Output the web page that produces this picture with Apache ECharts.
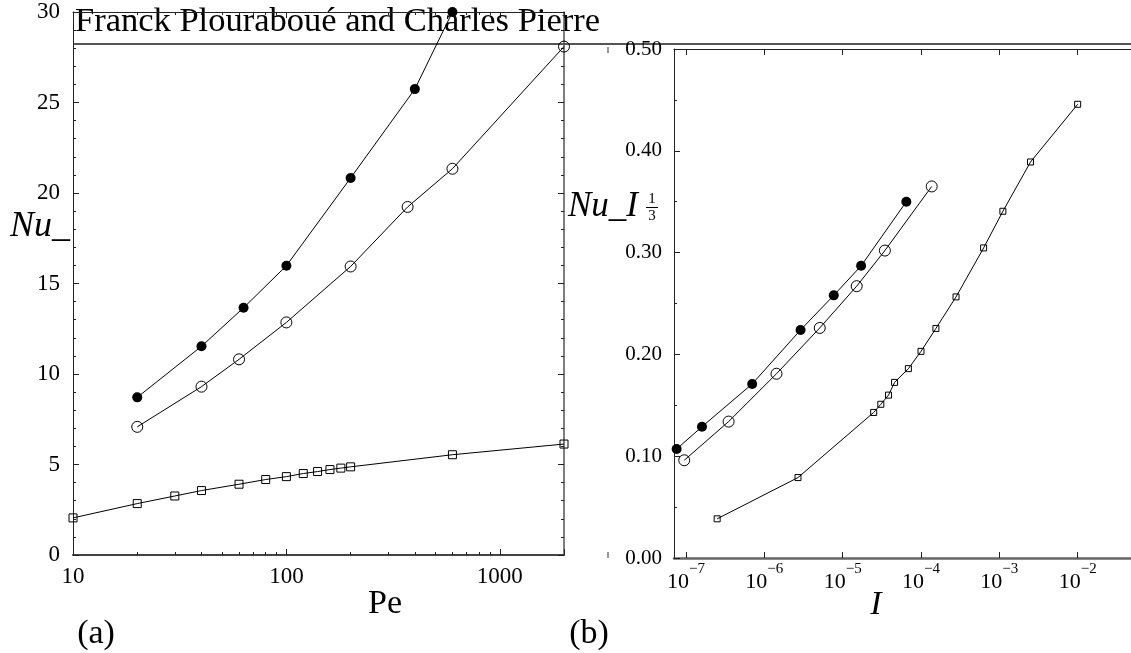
<!DOCTYPE html>
<html>
<head>
<meta charset="utf-8">
<title>Nu vs Pe / I</title>
<script src="https://cdn.jsdelivr.net/npm/echarts@6/dist/echarts.min.js"></script>
<style>
html, body { margin: 0; padding: 0; background: #fff; }
#chart { width: 1131px; height: 653px; }
</style>
</head>
<body>
<div id="chart"></div>
<script>
// panel (a) : Nu_ against Pe
var peFilled = [20, 40, 63, 100, 200, 400, 600];
var nuFilled = [8.71, 11.53, 13.66, 15.98, 20.83, 25.74, 30.0];
var peOpen = [20, 40, 60, 100, 200, 370, 600, 2000];
var nuOpen = [7.08, 9.30, 10.81, 12.85, 15.94, 19.23, 21.34, 28.09];
var peSquare = [10, 20, 30, 40, 60, 80, 100, 120, 140, 160, 180, 200, 600, 2000];
var nuSquare = [2.05, 2.84, 3.26, 3.56, 3.91, 4.17, 4.33, 4.50, 4.61, 4.72, 4.80, 4.87, 5.54, 6.13];
var peMinorTicks = [20, 30, 40, 50, 60, 70, 80, 90, 200, 300, 400, 500, 600, 700, 800, 900];

// panel (b) : Nu_ I^(1/3) against I
var iFilled = [7.6e-8, 1.6e-7, 7.0e-7, 2.9e-6, 7.7e-6, 1.72e-5, 6.5e-5];
var vFilled = [0.107, 0.129, 0.171, 0.224, 0.258, 0.287, 0.350];
var iOpen = [9.5e-8, 3.5e-7, 1.43e-6, 5.1e-6, 1.51e-5, 3.46e-5, 1.37e-4];
var vOpen = [0.096, 0.134, 0.181, 0.226, 0.267, 0.302, 0.365];
var iSquare = [2.5e-7, 2.69e-6, 2.49e-5, 3.07e-5, 3.85e-5, 4.6e-5, 6.9e-5, 1.0e-4, 1.55e-4, 2.8e-4, 6.3e-4, 1.11e-3, 2.5e-3, 1.0e-2];
var vSquare = [0.0385, 0.079, 0.143, 0.151, 0.160, 0.1725, 0.186, 0.203, 0.2255, 0.2565, 0.3046, 0.3406, 0.389, 0.4457];

var serif = '"Liberation Serif", "Times New Roman", serif';

function pairs(xs, ys) {
  return xs.map(function (x, i) { return [x, ys[i]]; });
}

function isDecade(v) {
  var e = Math.log10(v);
  return Math.abs(e - Math.round(e)) < 1e-6;
}

function peLabel(v) {
  return isDecade(v) ? String(Math.round(v)) : '';
}

function powLabel(v) {
  if (!isDecade(v)) return '';
  return '{b|10}{s|\u2212' + (-Math.round(Math.log10(v))) + '}';
}

var seriesConfig = {
  type: 'line',
  smooth: false,
  clip: false,
  lineStyle: { color: '#000', width: 1 },
  emphasis: { disabled: true }
};

function filled(data, x, y, size) {
  return Object.assign({}, seriesConfig, {
    xAxisIndex: x, yAxisIndex: y, data: data,
    symbol: 'circle', symbolSize: size,
    itemStyle: { color: '#000', borderColor: '#000', borderWidth: 0 }
  });
}
function hollow(data, x, y, symbol, size) {
  return Object.assign({}, seriesConfig, {
    xAxisIndex: x, yAxisIndex: y, data: data,
    symbol: symbol, symbolSize: size,
    itemStyle: { color: 'transparent', borderColor: '#000', borderWidth: 1 }
  });
}

var frame = { show: true, onZero: false, lineStyle: { color: '#222', width: 1 } };
var noSplit = { show: false };
var tickStyle = { color: '#222' };

var option = {
  animation: false,
  backgroundColor: '#fff',
  grid: [
    { left: 73, top: 12, width: 491, height: 543, containLabel: false, outerBoundsMode: 'none' },
    { left: 674, top: 49, width: 482, height: 509, containLabel: false, outerBoundsMode: 'none' }
  ],
  xAxis: [
    {
      gridIndex: 0, type: 'log', min: 10, max: 2000, position: 'bottom',
      axisLine: { show: true, onZero: false, lineStyle: { color: '#444', width: 2 } },
      axisTick: { show: true, inside: true, length: 6, lineStyle: tickStyle },
      axisLabel: { formatter: peLabel, margin: 10, color: '#000', fontFamily: serif, fontSize: 23 },
      splitLine: noSplit
    },
    {
      gridIndex: 0, type: 'log', min: 10, max: 2000, position: 'bottom',
      axisLine: { show: false, onZero: false },
      axisTick: { show: true, inside: true, length: 3, customValues: peMinorTicks, lineStyle: tickStyle },
      axisLabel: { show: false },
      splitLine: noSplit
    },
    {
      gridIndex: 0, type: 'log', min: 10, max: 2000, position: 'top',
      axisLine: frame,
      axisTick: { show: true, inside: true, length: 6, lineStyle: tickStyle },
      axisLabel: { show: false },
      splitLine: noSplit
    },
    {
      gridIndex: 0, type: 'log', min: 10, max: 2000, position: 'top',
      axisLine: { show: false, onZero: false },
      axisTick: { show: true, inside: true, length: 3, customValues: peMinorTicks, lineStyle: tickStyle },
      axisLabel: { show: false },
      splitLine: noSplit
    },
    {
      gridIndex: 1, type: 'log', min: 7.03e-8, max: 1e-1, position: 'bottom',
      axisLine: { show: true, onZero: false, lineStyle: { color: '#666', width: 2.5 } },
      axisTick: { show: true, inside: true, length: 6, lineStyle: tickStyle },
      axisLabel: {
        formatter: powLabel, margin: 4, color: '#000',
        rich: {
          b: { fontFamily: serif, fontSize: 22, color: '#000', lineHeight: 31, verticalAlign: 'bottom' },
          s: { fontFamily: serif, fontSize: 15, color: '#000', lineHeight: 15, verticalAlign: 'top' }
        }
      },
      splitLine: noSplit
    },
    {
      gridIndex: 1, type: 'log', min: 7.03e-8, max: 1e-1, position: 'top',
      axisLine: frame,
      axisTick: { show: true, inside: true, length: 6, lineStyle: tickStyle },
      axisLabel: { show: false },
      splitLine: noSplit
    }
  ],
  yAxis: [
    {
      gridIndex: 0, type: 'value', min: 0, max: 30, interval: 5, position: 'left',
      axisLine: frame,
      axisTick: { show: true, inside: true, length: 6, lineStyle: tickStyle },
      minorTick: { show: true, splitNumber: 5, length: 3, lineStyle: tickStyle },
      axisLabel: { margin: 13, color: '#000', fontFamily: serif, fontSize: 23 },
      splitLine: noSplit
    },
    {
      gridIndex: 0, type: 'value', min: 0, max: 30, interval: 5, position: 'right',
      axisLine: { show: true, onZero: false, lineStyle: { color: '#555', width: 1.5 } },
      axisTick: { show: true, inside: true, length: 6, lineStyle: tickStyle },
      minorTick: { show: true, splitNumber: 5, length: 3, lineStyle: tickStyle },
      axisLabel: { show: false },
      splitLine: noSplit
    },
    {
      gridIndex: 1, type: 'value', min: 0, max: 0.5, interval: 0.1, position: 'left',
      axisLine: frame,
      axisTick: { show: true, inside: true, length: 6, lineStyle: tickStyle },
      minorTick: { show: true, splitNumber: 2, length: 3, lineStyle: tickStyle },
      axisLabel: {
        margin: 12, color: '#000', fontFamily: serif, fontSize: 21,
        formatter: function (v) { return v.toFixed(2); }
      },
      splitLine: noSplit
    }
  ],
  graphic: [
    { type: 'text', x: 75, y: 22, z: 0, style: { text: 'Franck Plourabou\u00e9 and Charles Pierre', font: '34.5px ' + serif, fill: '#000', verticalAlign: 'middle' } },
    { type: 'line', z: 0, shape: { x1: 73, y1: 44, x2: 1131, y2: 44 }, style: { stroke: '#555', lineWidth: 2 } },
    { type: 'line', shape: { x1: 608, y1: 47, x2: 608, y2: 53 }, style: { stroke: '#333', lineWidth: 1 } },
    { type: 'line', shape: { x1: 608, y1: 552, x2: 608, y2: 558 }, style: { stroke: '#333', lineWidth: 1 } },
    { type: 'text', x: 10, y: 227, style: { text: 'Nu_', font: 'italic 36px ' + serif, fill: '#000', verticalAlign: 'middle' } },
    { type: 'text', x: 385, y: 604, style: { text: 'Pe', font: '34px ' + serif, fill: '#000', align: 'center', verticalAlign: 'middle' } },
    { type: 'text', x: 96, y: 634, style: { text: '(a)', font: '34px ' + serif, fill: '#000', align: 'center', verticalAlign: 'middle' } },
    { type: 'text', x: 568, y: 207, style: { text: 'Nu_I', font: 'italic 35px ' + serif, fill: '#000', verticalAlign: 'middle' } },
    { type: 'text', x: 652, y: 199, style: { text: '1', font: '15px ' + serif, fill: '#000', align: 'center', verticalAlign: 'middle' } },
    { type: 'line', shape: { x1: 646, y1: 207.5, x2: 658, y2: 207.5 }, style: { stroke: '#000', lineWidth: 1 } },
    { type: 'text', x: 652, y: 216, style: { text: '3', font: '15px ' + serif, fill: '#000', align: 'center', verticalAlign: 'middle' } },
    { type: 'text', x: 876, y: 605, style: { text: 'I', font: 'italic 34px ' + serif, fill: '#000', align: 'center', verticalAlign: 'middle' } },
    { type: 'text', x: 589, y: 634, style: { text: '(b)', font: '34px ' + serif, fill: '#000', align: 'center', verticalAlign: 'middle' } }
  ],
  series: [
    filled(pairs(peFilled, nuFilled), 0, 0, 10),
    hollow(pairs(peOpen, nuOpen), 0, 0, 'circle', 11),
    hollow(pairs(peSquare, nuSquare), 0, 0, 'rect', 8),
    filled(pairs(iFilled, vFilled), 4, 2, 10),
    hollow(pairs(iOpen, vOpen), 4, 2, 'circle', 11),
    hollow(pairs(iSquare, vSquare), 4, 2, 'rect', 6)
  ]
};

var chart = echarts.init(document.getElementById('chart'));
chart.setOption(option);
window.onresize = function () { chart.resize(); };
</script>
</body>
</html>
